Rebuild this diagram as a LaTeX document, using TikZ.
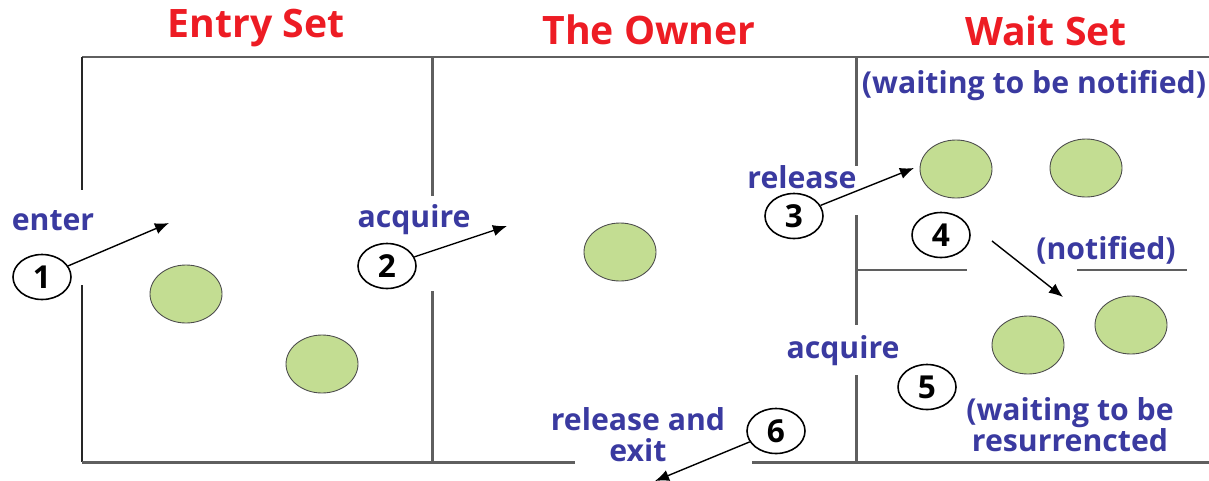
\documentclass[tikz,border=0pt]{standalone}
\usepackage{fontspec}
\setmainfont{Open Sans}
\usetikzlibrary{shapes.geometric,arrows.meta}
\definecolor{lblue}{RGB}{58,58,160}
\definecolor{tred}{RGB}{237,28,36}
\definecolor{wall}{RGB}{95,95,95}
\definecolor{ball}{RGB}{195,221,146}
\tikzset{
  wallline/.style={draw=wall,line width=1.7pt},
  title/.style={text=tred,font=\fontsize{22.3}{24}\selectfont\bfseries,inner sep=0pt},
  lbl/.style={text=lblue,font=\fontsize{17.2}{17.6}\selectfont\bfseries,inner sep=0pt,align=center},
  num/.style={draw=black,line width=0.9pt,ellipse,minimum width=58*0.02cm,minimum height=45*0.02cm,inner sep=0pt,font=\fontsize{18}{18}\selectfont\bfseries},
  ball/.style={draw=black!70,line width=0.5pt,fill=ball,ellipse,minimum width=72*0.02cm,minimum height=58*0.02cm,inner sep=0pt},
  arr/.style={draw=black,line width=0.8pt,-{Latex[length=8pt,width=6.5pt]}}
}
\begin{document}
\begin{tikzpicture}[x=0.02cm,y=-0.02cm]
\useasboundingbox (0,0) rectangle (1209,480);
% walls
\draw[wallline] (82,57) -- (1209,57);
\draw[wallline,draw=black!85] (82,57) -- (82,190);
\draw[wallline,draw=black!85] (82,285) -- (82,462);
\draw[wallline] (82,462) -- (575,462);
\draw[wallline] (752,462) -- (1209,462);
\draw[wallline] (432,57) -- (432,196);
\draw[wallline] (432,291) -- (432,462);
\draw[wallline] (856,57) -- (856,166);
\draw[wallline] (856,215) -- (856,325);
\draw[wallline] (856,375) -- (856,462);
\draw[wallline] (856,270) -- (967,270);
\draw[wallline] (1077,270) -- (1187,270);
% titles
\node[title] (tentry) at (256,28) {Entry Set};
\node[title] (towner) at (649,30) {The Owner};
\node[title] (twait) at (1046,31) {Wait Set};
% threads
\node[ball] (e1) at (186,294) {};
\node[ball] (e2) at (322,364) {};
\node[ball] (o1) at (620,252) {};
\node[ball] (w1) at (956,169) {};
\node[ball] (w2) at (1086,168) {};
\node[ball] (r1) at (1028,345) {};
\node[ball] (r2) at (1131,325) {};
% labels
\node[lbl] (lenter) at (53,221) {enter};
\node[lbl] (lacq1) at (414,220) {acquire};
\node[lbl] (lrel) at (802,177) {release};
\node[lbl] (lwait) at (1034,86) {(waiting to be notified)};
\node[lbl] (lnot) at (1106,250) {(notified)};
\node[lbl] (lacq2) at (843,351) {acquire};
\node[lbl] (lres) at (1070,425) {(waiting to be\\resurrencted};
\node[lbl] (lexit) at (638,435) {release and\\exit};
% numbers
\node[num] (n1) at (42,277) {1};
\node[num] (n2) at (387,266) {2};
\node[num] (n3) at (794,216) {3};
\node[num] (n4) at (941,235) {4};
\node[num] (n5) at (927,387) {5};
\node[num] (n6) at (776,431) {6};
% arrow ends
\coordinate (t1) at (169,223);
\coordinate (t2) at (507,226);
\coordinate (t3) at (914,168);
\coordinate (s4) at (992,241);
\coordinate (t4) at (1063,297);
\coordinate (t6) at (655,481);
\draw[arr] (n1) -- (t1);
\draw[arr] (n2) -- (t2);
\draw[arr] (n3) -- (t3);
\draw[arr] (s4) -- (t4);
\draw[arr] (n6) -- (t6);
\end{tikzpicture}
\end{document}
